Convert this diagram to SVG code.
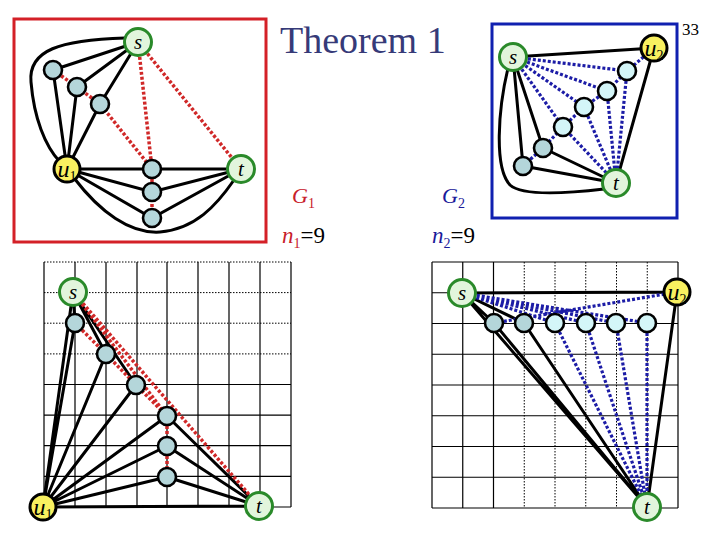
<svg xmlns="http://www.w3.org/2000/svg" width="720" height="540" viewBox="0 0 720 540">
<style>
.bg{fill:#fff}
.g{stroke:#000;stroke-width:1.2;fill:none}
.gd{stroke:#000;stroke-width:1;fill:none;stroke-dasharray:1.5 1.5}
.e{stroke:#000;stroke-width:3;fill:none;stroke-linecap:round}
.r{stroke:#d02828;stroke-width:3.5;fill:none;stroke-dasharray:3 2}
.b{stroke:#1c1ca6;stroke-width:3.2;fill:none;stroke-dasharray:3 2}
.st{fill:#e2f5dc;stroke:#2a8a2a;stroke-width:3}
.u{fill:#f8f060;stroke:#000;stroke-width:3}
.m{fill:#b4d6da;stroke:#000;stroke-width:2.6}
.c{fill:#d4f6f8;stroke:#000;stroke-width:2.6}
.lb{font-family:'Liberation Serif',serif;font-style:italic;font-size:21px;fill:#000;text-anchor:middle}
.ul{font-family:'Liberation Serif',serif;font-size:24px;fill:#000;text-anchor:middle}
.tx{font-family:'Liberation Serif',serif}
</style>
<rect class="bg" x="0" y="0" width="720" height="540"/>

<g id="frames">
<rect x="14" y="19" width="252" height="223" fill="none" stroke="#d42027" stroke-width="3"/>
<rect x="492" y="24" width="185" height="194" fill="none" stroke="#1020b0" stroke-width="3"/>
</g>

<g id="grid-left">
<path class="g" d="M44 262V507M75 262V507M106 262V507M137 262V507M167 262V507M198 262V507M229 262V507M260 262V507M291 262V507"/>
<path class="gd" d="M44 262H291M44 292.6H291M44 323.2H291M44 353.9H291"/>
<path class="g" d="M44 384.5H291M44 415.1H291M44 445.7H291M44 476.4H291M44 507H291"/>
</g>

<g id="grid-right">
<path class="g" d="M432 262V508M462.75 262V508M493.5 262V508M678 262V508"/>
<path class="gd" d="M524.25 262V508M555 262V508M585.75 262V508M616.5 262V508M647.25 262V508"/>
<path class="g" d="M432 262H678M432 292.75H678M432 323.5H678M432 354.25H678M432 385H678M432 415.75H678M432 446.5H678M432 477.25H678M432 508H678"/>
</g>

<g id="connectors">
<!-- G1 -->
<path class="e" d="M138 42L53 70M138 42L77 87M138 42L100 104M53 70L67 169M77 87L67 169M100 104L67 169M67 169L241 169M67 169L152 192L241 169M67 169L152 218L241 169"/>
<path class="e" d="M125 38C60 40 28 50 31 82C34 118 45 146 60 162"/>
<path class="e" d="M74 178C100 212 130 234 160 232C195 229 216 206 234 180"/>
<path class="r" d="M53 70L77 87L100 104L152 169M138 42L152 169M138 42L241 169M152 169L152 218"/>
<!-- G2 -->
<path class="e" d="M513 57L654 48M513 57L523 166M513 57L543 148M523 166L616 183M543 148L616 183M654 48L616 183"/>
<path class="e" d="M508 68C498 110 494 168 510 185C523 197 570 193 604 189"/>
<path class="b" d="M513 57L563 127M513 57L584 107M513 57L607 91M513 57L627 71M523 166L543 148L563 127L584 107L607 91L627 71L654 48M563 127L616 183M584 107L616 183M607 91L616 183M627 71L616 183"/>
<!-- bottom-left -->
<path class="e" d="M43 507L73 292M43 507L75 323M43 507L106 354M43 507L136 385M43 507L167 416M43 507L167 446M43 507L167 477M43 507L259 506M73 292L75 323M73 292L106 354M73 292L136 385M167 416L259 506M167 446L259 506M167 477L259 506"/>
<path class="r" d="M75 323L106 354L136 385L167 416M73 292L167 416M73 292L259 506M167 416L167 477"/>
<!-- bottom-right -->
<path class="e" d="M462 293L677 292M462 293L494 323M462 293L524 323M462 293L647 507M494 323L647 507M524 323L647 507M677 292L647 507"/>
<path class="b" d="M462 293L555 323M462 293L586 323M462 293L616 323M462 293L647 323M494 323L677 292M555 323L647 507M586 323L647 507M616 323L647 507M647 323L647 507"/>
</g>

<g id="g1-s"><circle class="st" cx="138" cy="42" r="13.5"/><text class="lb" x="138" y="49">s</text></g>
<g id="g1-t"><circle class="st" cx="241" cy="169" r="13.5"/><text class="lb" x="241" y="176">t</text></g>
<g id="g1-u1"><circle class="u" cx="67" cy="169" r="13"/><text class="ul" x="67" y="177"><tspan font-style="italic">u</tspan><tspan font-size="14" dy="4">1</tspan></text></g>
<g id="g1-a1"><circle class="m" cx="53" cy="70" r="9"/></g>
<g id="g1-a2"><circle class="m" cx="77" cy="87" r="9"/></g>
<g id="g1-a3"><circle class="m" cx="100" cy="104" r="9"/></g>
<g id="g1-b1"><circle class="m" cx="152" cy="169" r="9"/></g>
<g id="g1-b2"><circle class="m" cx="152" cy="192" r="9"/></g>
<g id="g1-b3"><circle class="m" cx="152" cy="218" r="9"/></g>

<g id="g2-s"><circle class="st" cx="513" cy="57" r="13.5"/><text class="lb" x="513" y="64">s</text></g>
<g id="g2-u2"><circle class="u" cx="654" cy="48" r="13"/><text class="ul" x="654" y="56"><tspan font-style="italic">u</tspan><tspan font-size="14" dy="4">2</tspan></text></g>
<g id="g2-t"><circle class="st" cx="616" cy="183" r="13.5"/><text class="lb" x="616" y="190">t</text></g>
<g id="g2-c1"><circle class="m" cx="523" cy="166" r="9"/></g>
<g id="g2-c2"><circle class="m" cx="543" cy="148" r="9"/></g>
<g id="g2-c3"><circle class="c" cx="563" cy="127" r="9"/></g>
<g id="g2-c4"><circle class="c" cx="584" cy="107" r="9"/></g>
<g id="g2-c5"><circle class="c" cx="607" cy="91" r="9"/></g>
<g id="g2-c6"><circle class="c" cx="627" cy="71" r="9"/></g>

<g id="bl-s"><circle class="st" cx="73" cy="292" r="13.5"/><text class="lb" x="73" y="299">s</text></g>
<g id="bl-t"><circle class="st" cx="259" cy="506" r="13.5"/><text class="lb" x="259" y="513">t</text></g>
<g id="bl-u1"><circle class="u" cx="43" cy="507" r="13"/><text class="ul" x="43" y="515"><tspan font-style="italic">u</tspan><tspan font-size="14" dy="4">1</tspan></text></g>
<g id="bl-d1"><circle class="m" cx="75" cy="323" r="9"/></g>
<g id="bl-d2"><circle class="m" cx="106" cy="354" r="9"/></g>
<g id="bl-d3"><circle class="m" cx="136" cy="385" r="9"/></g>
<g id="bl-e1"><circle class="m" cx="167" cy="416" r="9"/></g>
<g id="bl-e2"><circle class="m" cx="167" cy="446" r="9"/></g>
<g id="bl-e3"><circle class="m" cx="167" cy="477" r="9"/></g>

<g id="br-s"><circle class="st" cx="462" cy="293" r="13.5"/><text class="lb" x="462" y="300">s</text></g>
<g id="br-u2"><circle class="u" cx="677" cy="292" r="13"/><text class="ul" x="677" y="300"><tspan font-style="italic">u</tspan><tspan font-size="14" dy="4">2</tspan></text></g>
<g id="br-t"><circle class="st" cx="647" cy="507" r="13.5"/><text class="lb" x="647" y="514">t</text></g>
<g id="br-f1"><circle class="m" cx="494" cy="323" r="9"/></g>
<g id="br-f2"><circle class="m" cx="524" cy="323" r="9"/></g>
<g id="br-f3"><circle class="c" cx="555" cy="323" r="9"/></g>
<g id="br-f4"><circle class="c" cx="586" cy="323" r="9"/></g>
<g id="br-f5"><circle class="c" cx="616" cy="323" r="9"/></g>
<g id="br-f6"><circle class="c" cx="647" cy="323" r="9"/></g>

<g id="labels">
<text class="tx" x="280" y="53" font-size="38" fill="#363a78">Theorem 1</text>
<text class="tx" x="682" y="35" font-size="17" fill="#000">33</text>
<text class="tx" x="292" y="203" font-size="22" fill="#c8202a"><tspan font-style="italic">G</tspan><tspan font-size="14" dy="5">1</tspan></text>
<text class="tx" x="282" y="243" font-size="23" fill="#c8202a"><tspan font-style="italic">n</tspan><tspan font-size="14" dy="5">1</tspan><tspan dy="-5" fill="#000">=9</tspan></text>
<text class="tx" x="442" y="203" font-size="22" fill="#1a1a9a"><tspan font-style="italic">G</tspan><tspan font-size="14" dy="5">2</tspan></text>
<text class="tx" x="432" y="243" font-size="23" fill="#1a1a9a"><tspan font-style="italic">n</tspan><tspan font-size="14" dy="5">2</tspan><tspan dy="-5" fill="#000">=9</tspan></text>
</g>
</svg>
